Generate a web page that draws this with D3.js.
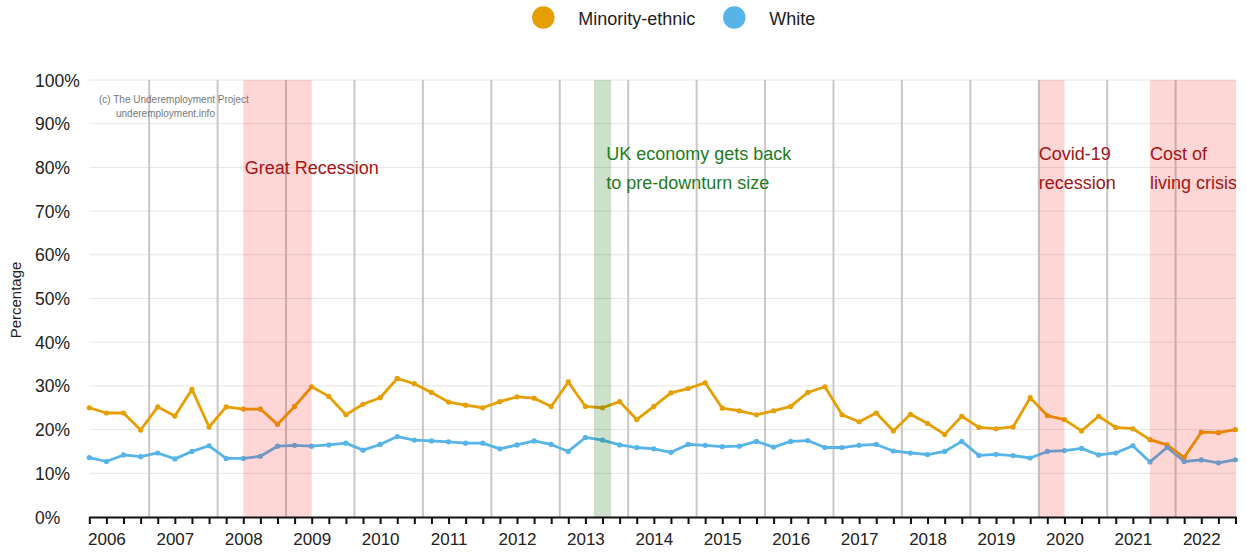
<!DOCTYPE html>
<html>
<head>
<meta charset="utf-8">
<script src="https://cdn.jsdelivr.net/npm/d3@7/dist/d3.min.js"></script>
<style>
  html, body { margin: 0; padding: 0; background: #fff; }
  svg { display: block; font-family: "Liberation Sans", Arial, sans-serif; }
</style>
</head>
<body>
<svg id="chart" width="1247" height="552"></svg>
<script>
// ---- Data ----
const quarters = [
  "2005 Q4",
  "2006 Q1","2006 Q2","2006 Q3","2006 Q4",
  "2007 Q1","2007 Q2","2007 Q3","2007 Q4",
  "2008 Q1","2008 Q2","2008 Q3","2008 Q4",
  "2009 Q1","2009 Q2","2009 Q3","2009 Q4",
  "2010 Q1","2010 Q2","2010 Q3","2010 Q4",
  "2011 Q1","2011 Q2","2011 Q3","2011 Q4",
  "2012 Q1","2012 Q2","2012 Q3","2012 Q4",
  "2013 Q1","2013 Q2","2013 Q3","2013 Q4",
  "2014 Q1","2014 Q2","2014 Q3","2014 Q4",
  "2015 Q1","2015 Q2","2015 Q3","2015 Q4",
  "2016 Q1","2016 Q2","2016 Q3","2016 Q4",
  "2017 Q1","2017 Q2","2017 Q3","2017 Q4",
  "2018 Q1","2018 Q2","2018 Q3","2018 Q4",
  "2019 Q1","2019 Q2","2019 Q3","2019 Q4",
  "2020 Q1","2020 Q2","2020 Q3","2020 Q4",
  "2021 Q1","2021 Q2","2021 Q3","2021 Q4",
  "2022 Q1","2022 Q2","2022 Q3"
];

const minorityEthnic = [
  25.0,
  23.8, 23.8, 19.9, 25.2,
  23.1, 29.2, 20.6, 25.2,
  24.7, 24.7, 21.2, 25.3,
  29.8, 27.6, 23.4, 25.8,
  27.3, 31.7, 30.5, 28.5,
  26.3, 25.6, 25.0, 26.4,
  27.5, 27.2, 25.3, 30.9,
  25.3, 25.0, 26.4, 22.3,
  25.3, 28.4, 29.4, 30.7,
  24.9, 24.3, 23.4, 24.3,
  25.3, 28.5, 29.8, 23.4,
  21.8, 23.8, 19.7, 23.5,
  21.4, 18.9, 23.05, 20.5,
  20.2, 20.6, 27.3, 23.2,
  22.3, 19.7, 23.05, 20.5,
  20.2, 17.7, 16.5, 13.6,
  19.4, 19.3, 20.0
];

const white = [
  13.6,
  12.7, 14.2, 13.8, 14.65,
  13.3, 15.0, 16.3, 13.4,
  13.4, 13.9, 16.2, 16.4,
  16.2, 16.5, 16.9, 15.3,
  16.6, 18.4, 17.6, 17.4,
  17.2, 16.9, 16.9, 15.6,
  16.5, 17.4, 16.6, 15.0,
  18.2, 17.6, 16.5, 15.9,
  15.6, 14.8, 16.6, 16.4,
  16.1, 16.2, 17.3, 16.0,
  17.3, 17.5, 15.9, 15.9,
  16.4, 16.6, 15.1, 14.65,
  14.3, 15.0, 17.3, 14.1,
  14.35, 14.05, 13.5, 15.0,
  15.2, 15.7, 14.2, 14.65,
  16.3, 12.6, 15.9, 12.7,
  13.05, 12.4, 13.1
];

const seriesNames = ["Minority-ethnic", "White"];
const seriesColors = ["#E69F00", "#56B4E9"];

const yTicks = [0, 10, 20, 30, 40, 50, 60, 70, 80, 90, 100];

// events: start/end in quarter-index units
const eventNames = ["Great Recession", "UK economy gets back|to pre-downturn size", "Covid-19|recession", "Cost of|living crisis"];
const eventStart = [9, 29.5, 55.5, 62];
const eventEnd = [13, 30.5, 57, 67];
const eventKind = ["bad", "good", "bad", "bad"];

// ---- Layout ----
const svg = d3.select("#chart");
const pLeft = 89.3, pRight = 1235.5, pTop = 80, pBottom = 517;
const labelShift = [1.5, 12.3, 0, 0];

const x = d3.scaleLinear().domain([0, quarters.length - 1]).range([pLeft, pRight]);
const y = d3.scaleLinear().domain([0, 100]).range([pBottom, pTop]);

svg.append("defs").append("clipPath").attr("id", "plotclip")
  .append("rect").attr("x", pLeft).attr("y", 0).attr("width", pRight - pLeft + 0.5).attr("height", pBottom);

// horizontal gridlines
svg.append("g").selectAll("line").data(yTicks.filter(d => d > 0)).join("line")
  .attr("x1", pLeft).attr("x2", pRight)
  .attr("y1", d => y(d)).attr("y2", d => y(d))
  .attr("stroke", "#e6e6e6").attr("stroke-width", 1);

// y labels
svg.append("g").selectAll("text").data(yTicks).join("text")
  .attr("x", 35).attr("y", d => y(d) + 6.5)
  .attr("font-size", 17.5).attr("fill", "#222")
  .text(d => d + "%");

// vertical grey lines (mid-year separators)
const vIdx = d3.range(3.5, quarters.length - 1, 4);
svg.append("g").selectAll("line").data(vIdx).join("line")
  .attr("x1", d => x(d)).attr("x2", d => x(d))
  .attr("y1", pTop).attr("y2", pBottom)
  .attr("stroke", "#c8c8c8").attr("stroke-width", 2);

// series
const seriesData = [minorityEthnic, white];
const line = d3.line().x((d, i) => x(i)).y(d => y(d));
seriesData.forEach((vals, s) => {
  const g = svg.append("g");
  g.append("path").datum(vals)
    .attr("d", line).attr("fill", "none")
    .attr("stroke", seriesColors[s]).attr("stroke-width", 2.8)
    .attr("stroke-linejoin", "round");
  g.selectAll("circle").data(vals).join("circle")
    .attr("cx", (d, i) => x(i)).attr("cy", d => y(d)).attr("r", 2.6)
    .attr("fill", seriesColors[s]);
});

// event bands (overlay)
const bandG = svg.append("g").attr("clip-path", "url(#plotclip)");
eventNames.forEach((name, k) => {
  bandG.append("rect")
    .attr("x", x(eventStart[k])).attr("width", x(eventEnd[k]) - x(eventStart[k]) + (k === 3 ? 1 : 0))
    .attr("y", pTop).attr("height", pBottom - pTop)
    .attr("fill", eventKind[k] === "bad" ? "rgba(255,0,0,0.16)" : "rgba(0,100,0,0.2)");
});

// event labels
const textG = svg.append("g").attr("clip-path", "url(#plotclip)");
eventNames.forEach((name, k) => {
  const lines = name.split("|");
  const color = eventKind[k] === "bad" ? "#a01515" : "#237a23";
  const y0 = lines.length === 1 ? 174 : 159.5;
  lines.forEach((t, j) => {
    textG.append("text")
      .attr("x", x(eventStart[k]) + labelShift[k]).attr("y", y0 + j * 29)
      .attr("font-size", 18).attr("fill", color).text(t);
  });
});

// x axis
const xAxis = d3.axisBottom(x)
  .tickValues(d3.range(0, quarters.length))
  .tickSize(7).tickPadding(9)
  .tickFormat(i => quarters[i].endsWith("Q1") ? quarters[i].slice(0, 4) : "");
const ax = svg.append("g").attr("transform", `translate(0,${pBottom})`).call(xAxis);
ax.select(".domain").attr("stroke", "#111").attr("stroke-width", 2)
  .attr("d", `M${pLeft},0.5H${pRight + 1}`);
ax.selectAll(".tick line").attr("stroke", "#111").attr("stroke-width", 2);
ax.selectAll(".tick text").attr("font-size", 17).attr("fill", "#222")
  .attr("font-family", "'Liberation Sans', Arial, sans-serif");

// y axis title
svg.append("text")
  .attr("transform", "translate(21,300) rotate(-90)")
  .attr("text-anchor", "middle").attr("font-size", 15).attr("fill", "#222")
  .text("Percentage");

// copyright
svg.append("text").attr("x", 99).attr("y", 103).attr("font-size", 10).attr("fill", "#777")
  .text("(c) The Underemployment Project");
svg.append("text").attr("x", 116).attr("y", 117).attr("font-size", 10).attr("fill", "#777")
  .text("underemployment.info");

// legend
const legX = [543.3, 734.3];
seriesNames.forEach((n, s) => {
  svg.append("circle").attr("cx", legX[s]).attr("cy", 17.5).attr("r", 11.2).attr("fill", seriesColors[s]);
  svg.append("text").attr("x", legX[s] + 35).attr("y", 24.5).attr("font-size", 18).attr("fill", "#222").text(n);
});
</script>
</body>
</html>
